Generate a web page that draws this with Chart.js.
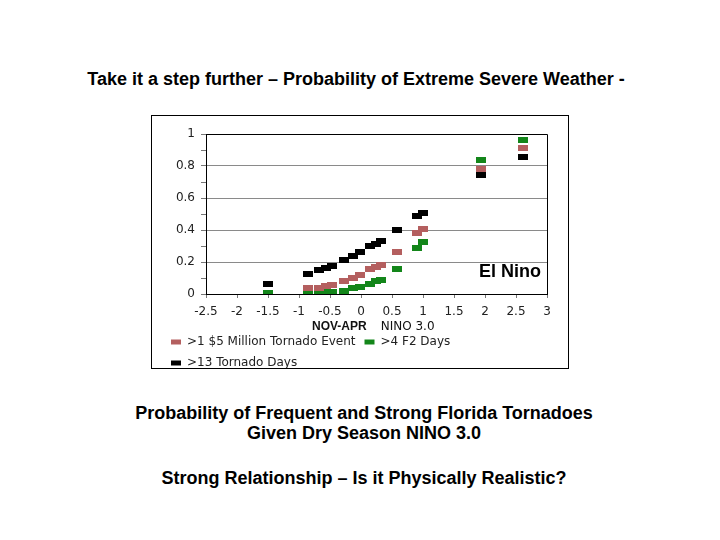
<!DOCTYPE html>
<html>
<head>
<meta charset="utf-8">
<script src="https://cdn.jsdelivr.net/npm/chart.js@4.4.0/dist/chart.umd.min.js"></script>
<style>
  body { margin: 0; background: #fff; width: 720px; height: 540px; position: relative; overflow: hidden; }
  .txt { position: absolute; font-family: "Liberation Sans", Arial, sans-serif; font-weight: bold; font-size: 18px; line-height: 20px; color: #000; text-align: center; white-space: nowrap; }
  #frame { position: absolute; left: 151px; top: 115px; width: 418px; height: 254px; border: 1px solid #000; box-sizing: border-box; overflow: hidden; background: #fff; }
  #chart { position: absolute; left: 0; top: 0; }
  #elnino { position: absolute; left: 327px; top: 144px; font-family: "Liberation Sans", Arial, sans-serif; font-weight: bold; font-size: 18px; line-height: 22px; }
  #xtitle { position: absolute; left: 160px; top: 203px; font-size: 12px; line-height: 14px; white-space: nowrap; color: #111; }
  #xtitle b { font-family: "Liberation Sans", Arial, sans-serif; }
  #xtitle span { font-family: "DejaVu Sans", sans-serif; margin-left: 14px; }
</style>
</head>
<body>
<div class="txt" style="left:-4px; top:69px; width:720px;">Take it a step further – Probability of Extreme Severe Weather -</div>

<div id="frame">
  <canvas id="chart" width="416" height="263"></canvas>
  <div id="elnino">El Nino</div>
  <div id="xtitle"><b>NOV-APR</b><span>NINO 3.0</span></div>
</div>

<div class="txt" style="left:4px; top:403px; width:720px;">Probability of Frequent and Strong Florida Tornadoes<br>Given Dry Season NINO 3.0</div>
<div class="txt" style="left:4px; top:468px; width:720px;">Strong Relationship – Is it Physically Realistic?</div>

<script>
// NOV-APR NINO 3.0 values
const nino = [-1.5, -0.86, -0.68, -0.57, -0.47, -0.27, -0.13, -0.01, 0.14, 0.24, 0.32, 0.58, 0.9, 1.0, 1.93, 2.62];
// probabilities
const millionEvent = [null, 0.035, 0.04, 0.05, 0.055, 0.08, 0.10, 0.12, 0.155, 0.17, 0.18, 0.26, 0.38, 0.405, 0.78, 0.915];
const f2Days = [0.005, 0.008, 0.01, 0.012, 0.015, 0.02, 0.035, 0.045, 0.065, 0.08, 0.085, 0.155, 0.285, 0.325, 0.84, 0.965];
const tornadoDays = [0.065, 0.125, 0.15, 0.16, 0.175, 0.21, 0.24, 0.265, 0.30, 0.315, 0.33, 0.40, 0.49, 0.505, 0.745, 0.855];

const seriesNames = ['>1 $5 Million Tornado Event', '>4 F2 Days', '>13 Tornado Days'];
const seriesColors = ['#b45f5f', '#13861a', '#000000'];
const yTicks = [0, 0.2, 0.4, 0.6, 0.8, 1];

function marker(color) {
  const c = document.createElement('canvas');
  c.width = 10;
  c.height = 6;
  const g = c.getContext('2d');
  g.fillStyle = color;
  g.fillRect(0, 0, 10, 6);
  return c;
}

function points(values) {
  return nino.map((x, i) => ({ x: x, y: values[i] })).filter(p => p.y !== null);
}

const plotBorder = {
  id: 'plotBorder',
  beforeDatasetsDraw(chart) {
    const a = chart.chartArea;
    const ctx = chart.ctx;
    ctx.save();
    ctx.strokeStyle = '#000';
    ctx.lineWidth = 1;
    ctx.beginPath();
    ctx.moveTo(Math.round(a.left) + 0.5, Math.round(a.top) + 0.5);
    ctx.lineTo(Math.round(a.right) + 0.5, Math.round(a.top) + 0.5);
    ctx.lineTo(Math.round(a.right) + 0.5, Math.round(a.bottom) + 0.5);
    ctx.stroke();
    ctx.restore();
  }
};

const allValues = [millionEvent, f2Days, tornadoDays];

new Chart(document.getElementById('chart'), {
  type: 'scatter',
  data: {
    datasets: allValues.map((vals, i) => ({
      label: seriesNames[i],
      data: points(vals),
      backgroundColor: seriesColors[i],
      borderColor: seriesColors[i],
      borderWidth: 0,
      pointStyle: marker(seriesColors[i]),
      pointRadius: 4,
      pointHoverRadius: 4
    }))
  },
  options: {
    responsive: false,
    devicePixelRatio: 1,
    animation: false,
    layout: { padding: { left: 10, top: 18, right: 21, bottom: 0 } },
    scales: {
      x: {
        type: 'linear',
        min: -2.5,
        max: 3,
        afterFit: s => { s.height = 33; },
        border: { color: '#000', width: 1 },
        grid: { drawOnChartArea: false, tickLength: 4, tickColor: '#777' },
        ticks: {
          stepSize: 0.5,
          padding: 7,
          color: '#222',
          font: { family: 'DejaVu Sans', size: 12 },
          callback: v => String(Math.round(v * 10) / 10)
        }
      },
      y: {
        min: 0,
        max: 1,
        afterFit: s => { s.width = 44; },
        border: { color: '#000', width: 1 },
        grid: {
          tickLength: 5,
          tickColor: '#777',
          color: ctx => {
            const v = Math.round(ctx.tick.value * 10);
            return (v % 2 === 0 && v > 0) ? '#8a8a8a' : 'rgba(0,0,0,0)';
          }
        },
        ticks: {
          stepSize: 0.1,
          autoSkip: false,
          padding: 6,
          color: '#222',
          font: { family: 'DejaVu Sans', size: 12 },
          callback: v => {
            const r = Math.round(v * 10) / 10;
            return yTicks.some(t => Math.abs(t - r) < 1e-6) ? String(r) : '';
          }
        }
      }
    },
    plugins: {
      legend: {
        position: 'bottom',
        align: 'start',
        labels: {
          boxWidth: 10,
          boxHeight: 5,
          padding: 9,
          color: '#222',
          font: { family: 'DejaVu Sans', size: 12 }
        }
      },
      tooltip: { enabled: false }
    }
  },
  plugins: [plotBorder]
});
</script>
</body>
</html>
